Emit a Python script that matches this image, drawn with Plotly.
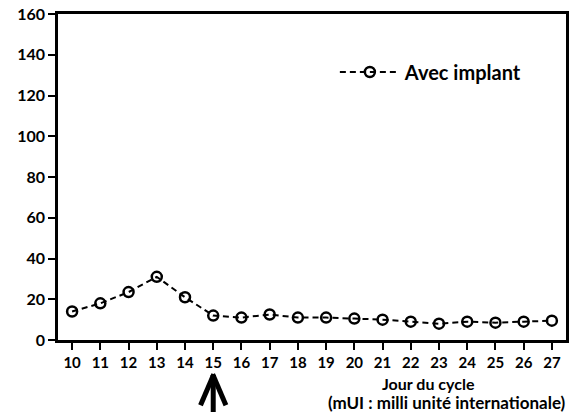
import plotly.graph_objects as go

days = list(range(10, 28))
avec_implant = [14, 18, 23.5, 31, 21, 12, 11, 12.5, 11, 11, 10.5, 10, 9, 8, 9, 8.5, 9, 9.5]
y_ticks = [0, 20, 40, 60, 80, 100, 120, 140, 160]

FONT = "Lato"

fig = go.Figure()
fig.add_trace(go.Scatter(
    x=days, y=avec_implant, mode="lines+markers", name="Avec implant",
    line=dict(color="black", width=2, dash="6px,4px"),
    marker=dict(symbol="circle-open", size=10, color="black", line=dict(width=2.5, color="black")),
))

fig.update_layout(
    width=571, height=412,
    margin=dict(l=58, r=5, t=14, b=72),
    paper_bgcolor="white", plot_bgcolor="white",
    font=dict(family=FONT, size=15, color="black"),
    showlegend=True,
    legend=dict(x=0.545, y=0.822, xanchor="left", yanchor="middle", itemwidth=60,
                bgcolor="rgba(0,0,0,0)", font=dict(family=FONT, size=20, color="black", weight="bold")),
    xaxis=dict(range=[9.5, 27.5], tickmode="array", tickvals=days, ticktext=[str(d) for d in days],
               automargin=False,
               showgrid=False, zeroline=False, showline=True, linecolor="black", linewidth=2.5,
               mirror=True, ticks="outside", ticklen=7, tickwidth=2, tickcolor="black",
               tickfont=dict(family=FONT, size=15, color="black", weight="bold")),
    yaxis=dict(range=[0, 160], tickmode="array", tickvals=y_ticks, automargin=False,
               showgrid=False, zeroline=False, showline=True, linecolor="black", linewidth=2.5,
               mirror=True, ticks="outside", ticklen=7, tickwidth=2, tickcolor="black",
               tickfont=dict(family=FONT, size=16, color="black", weight="bold")),
)

fig.add_annotation(x=(428 - 58) / 508, y=0, xref="paper", yref="paper", xanchor="center", yanchor="top",
                   text="Jour du cycle", showarrow=False, yshift=-32,
                   font=dict(family=FONT, size=16, color="black", weight="bold"))
fig.add_annotation(x=1.0, y=0, xref="paper", yref="paper", xanchor="right", yanchor="top",
                   text="(mUI : milli unité internationale)", showarrow=False, yshift=-50, xshift=2,
                   font=dict(family=FONT, size=17, color="black", weight="bold"))

# upward arrow under day 15
fig.add_shape(type="line", xref="x", yref="paper", x0=15, x1=15, y0=-0.25, y1=-0.11,
              line=dict(color="black", width=5))
fig.add_shape(type="line", xref="x", yref="paper", x0=14.55, x1=15.02, y0=-0.2, y1=-0.105,
              line=dict(color="black", width=5))
fig.add_shape(type="line", xref="x", yref="paper", x0=15.45, x1=14.98, y0=-0.2, y1=-0.105,
              line=dict(color="black", width=5))

fig.write_html("out.html", config={"displayModeBar": False},
               post_script="document.body.style.margin='0';document.body.style.overflow='hidden';")
